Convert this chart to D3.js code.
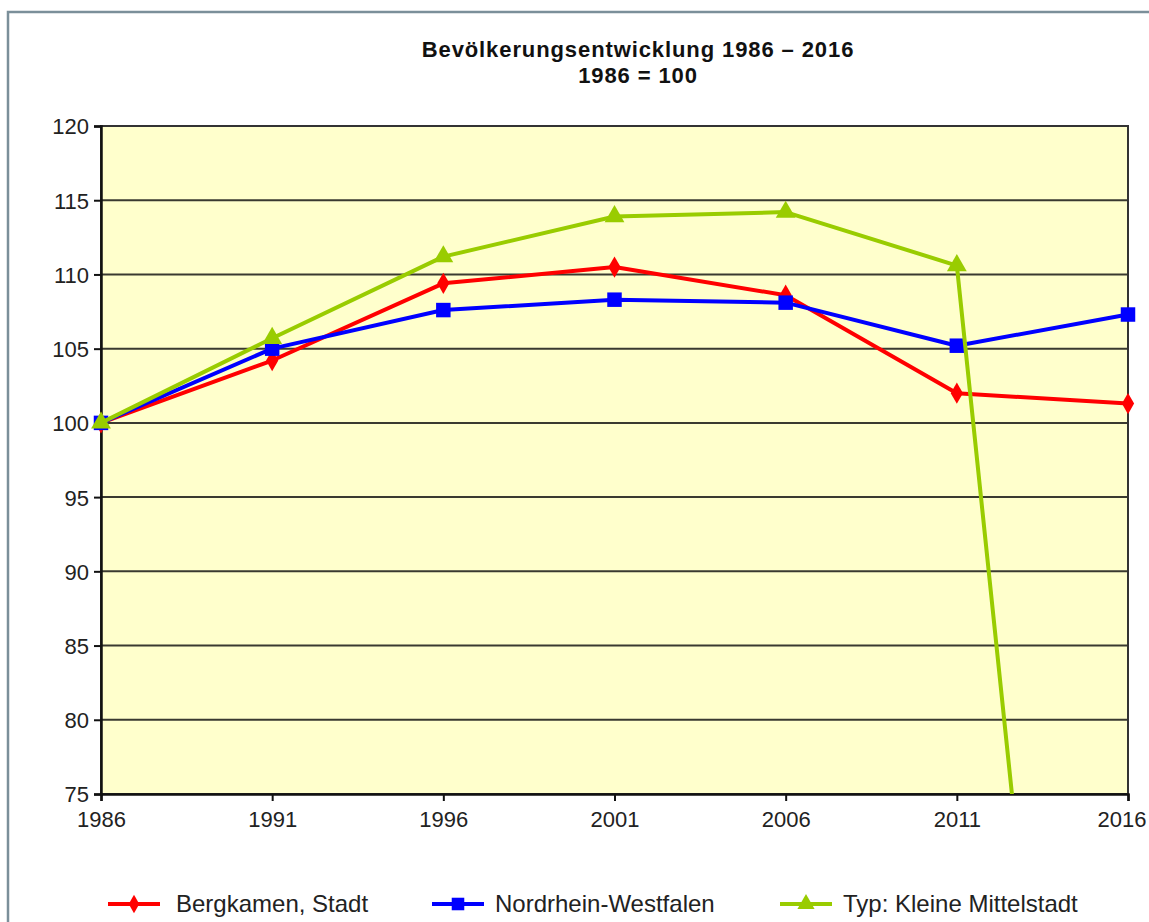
<!DOCTYPE html>
<meta charset="utf-8">
<script src="https://cdn.jsdelivr.net/npm/d3@7"></script>
<style>
  html, body { margin: 0; background: #fff; overflow: hidden; }
  svg { display: block; }
  text { font-family: "Liberation Sans", Arial, sans-serif; }
</style>
<body>
<div id="chart"></div>
</body>
<script>
// data (1986 = 100)
var years = [1986, 1991, 1996, 2001, 2006, 2011, 2016];
var bergkamen = [100, 104.2, 109.4, 110.5, 108.6, 102.0, 101.3];
var nrw = [100, 105.0, 107.6, 108.3, 108.1, 105.2, 107.3];
var mittelstadt = [100, 105.7, 111.2, 113.9, 114.2, 110.6, 0];
var yTicks = [75, 80, 85, 90, 95, 100, 105, 110, 115, 120];
var seriesNames = ["Bergkamen, Stadt", "Nordrhein-Westfalen", "Typ: Kleine Mittelstadt"];

var W = 1149, H = 922;
var margin = { top: 126, right: 21, bottom: 128, left: 101 },
    width = W - margin.left - margin.right,
    height = H - margin.top - margin.bottom;

var root = d3.select("#chart").append("svg")
    .attr("width", W)
    .attr("height", H);

// outer frame (top and left edge only visible)
root.append("path")
    .attr("d", "M8," + H + "V12H" + W)
    .attr("fill", "none")
    .attr("stroke", "#7b8f9a")
    .attr("stroke-width", 2.5);

// title
root.append("text")
    .attr("x", 638).attr("y", 57)
    .attr("text-anchor", "middle")
    .style("font-weight", "bold").style("font-size", "22px").style("fill", "#111")
    .style("letter-spacing", "0.9px")
    .text("Bevölkerungsentwicklung 1986 – 2016");
root.append("text")
    .attr("x", 638).attr("y", 83)
    .attr("text-anchor", "middle")
    .style("font-weight", "bold").style("font-size", "22px").style("fill", "#111")
    .style("letter-spacing", "0.9px")
    .text("1986 = 100");

var svg = root.append("g")
    .attr("transform", "translate(" + margin.left + "," + margin.top + ")");

var x = d3.scaleLinear().domain([1986, 2016]).range([0, width]);
var y = d3.scaleLinear().domain([75, 120]).range([height, 0]);

svg.append("rect")
    .attr("width", width).attr("height", height)
    .attr("fill", "#ffffcc");

// gridlines
svg.append("g")
    .selectAll("line")
    .data(yTicks)
    .enter().append("line")
    .attr("x1", 0).attr("x2", width)
    .attr("y1", d => y(d)).attr("y2", d => y(d))
    .attr("stroke", "#3a3a30").attr("stroke-width", 2);

// plot border
svg.append("rect")
    .attr("width", width).attr("height", height)
    .attr("fill", "none").attr("stroke", "#333").attr("stroke-width", 2);

// axes
var xAxis = svg.append("g")
    .attr("transform", "translate(0," + height + ")")
    .call(d3.axisBottom(x).tickValues(years).tickFormat(d3.format("d")).tickSize(7).tickPadding(6));
var yAxis = svg.append("g")
    .call(d3.axisLeft(y).tickValues(yTicks).tickSize(7).tickPadding(5));
[xAxis, yAxis].forEach(function(a) {
    a.select(".domain").attr("stroke", "#111").attr("stroke-width", 2.5);
    a.selectAll(".tick line").attr("stroke", "#111").attr("stroke-width", 2);
    a.selectAll("text").style("font-size", "22px").style("fill", "#222")
        .style("font-family", "'Liberation Sans', Arial, sans-serif");
});
yAxis.selectAll("text").attr("dy", "0.36em");
xAxis.selectAll("text").attr("dy", "0.9em");
// last year label is pulled inside the page edge
xAxis.selectAll(".tick text").filter(d => d === 2016)
    .attr("text-anchor", "end").attr("x", 18);

svg.append("clipPath").attr("id", "plotclip")
    .append("rect").attr("x", -10).attr("y", -10).attr("width", width + 20).attr("height", height + 10);

var series = [
    { name: seriesNames[0], values: bergkamen, color: "#ff0000", symbol: d3.symbolDiamond, size: 130 },
    { name: seriesNames[1], values: nrw, color: "#0000ff", symbol: d3.symbolSquare, size: 210 },
    { name: seriesNames[2], values: mittelstadt, color: "#99cc00", symbol: d3.symbolTriangle, size: 170 }
];

var line = d3.line()
    .x(function(d, i) { return x(years[i]); })
    .y(function(d) { return y(d); });

var plot = svg.append("g").attr("clip-path", "url(#plotclip)");

series.forEach(function(s) {
    plot.append("path")
        .datum(s.values)
        .attr("fill", "none")
        .attr("stroke", s.color)
        .attr("stroke-width", 4)
        .attr("stroke-linejoin", "round")
        .attr("d", line);
    plot.selectAll(null)
        .data(s.values.map(function(v, i) { return { v: v, yr: years[i] }; }).filter(d => d.v >= 75))
        .enter().append("path")
        .attr("transform", d => "translate(" + x(d.yr) + "," + y(d.v) + ")")
        .attr("d", d3.symbol().type(s.symbol).size(s.size))
        .attr("fill", s.color);
});

// legend
var legendX = [108, 432, 780];
var legend = root.append("g");
series.forEach(function(s, i) {
    var g = legend.append("g").attr("transform", "translate(" + legendX[i] + ",904)");
    g.append("line").attr("x1", 0).attr("x2", 52).attr("stroke", s.color).attr("stroke-width", 4);
    g.append("path").attr("transform", "translate(26,0)")
        .attr("d", d3.symbol().type(s.symbol).size(s.size * 0.75))
        .attr("fill", s.color);
    g.append("text").attr("x", i === 0 ? 68 : 63).attr("y", 8)
        .style("font-size", "24px").style("fill", "#222")
        .text(s.name);
});
</script>
